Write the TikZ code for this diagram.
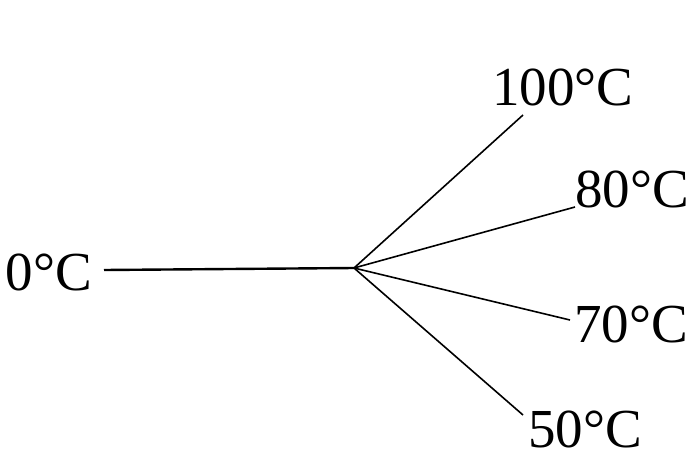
\documentclass[tikz,border=0pt]{standalone}
\usepackage{fontspec}
\setmainfont{Liberation Serif}
\begin{document}
\begin{tikzpicture}[x=1pt,y=-1pt,
  lbl/.style={inner sep=0pt, font=\fontsize{55}{60}\selectfont},
  wire/.style={line width=1.6pt, black}]
\useasboundingbox (0,0) rectangle (698,458);
\coordinate (hub) at (354,268);
\node[lbl] (t0) at (49,272) {0°C};
\node[lbl] (t100) at (563,87) {100°C};
\node[lbl] (t80) at (632,189) {80°C};
\node[lbl] (t70) at (631,324) {70°C};
\node[lbl] (t50) at (585,429) {50°C};
\coordinate (e0) at (104,270);
\coordinate (e100) at (523,115);
\coordinate (e80) at (575,207);
\coordinate (e70) at (570,320);
\coordinate (e50) at (523,415);
\draw[wire, line width=2.4pt] (e0) -- (hub);
\draw[wire] (hub) -- (e100);
\draw[wire] (hub) -- (e80);
\draw[wire] (hub) -- (e70);
\draw[wire] (hub) -- (e50);
\end{tikzpicture}
\end{document}
